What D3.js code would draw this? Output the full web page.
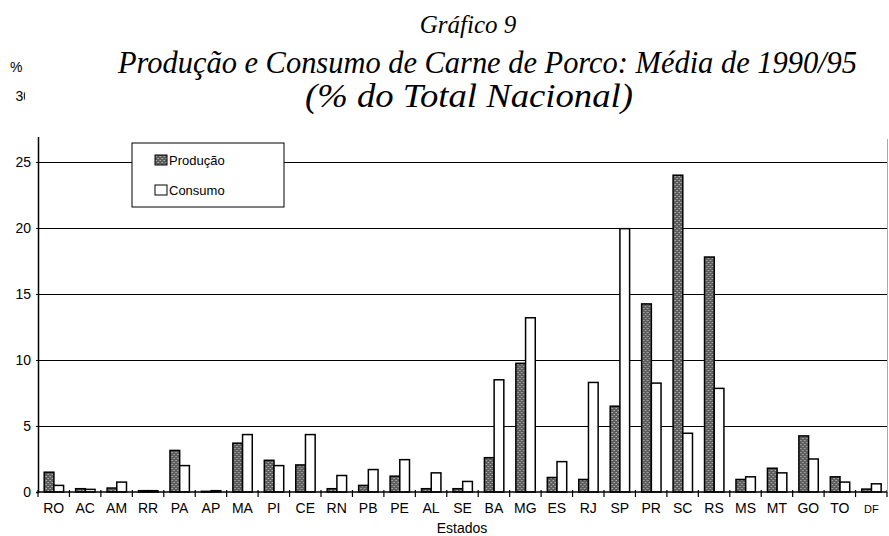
<!DOCTYPE html>
<html><head><meta charset="utf-8">
<script src="https://cdn.jsdelivr.net/npm/d3@7"></script>
<style>
body{margin:0;background:#fff}svg{display:block}
.sans{font-family:"Liberation Sans", Arial, Helvetica, sans-serif;}
.serif{font-family:"Liberation Serif", "Times New Roman", Times, serif;font-style:italic;}
</style>
</head><body>
<svg id="c" width="889" height="536"></svg>
<script>
const estados = ["RO","AC","AM","RR","PA","AP","MA","PI","CE","RN","PB","PE","AL","SE","BA","MG","ES","RJ","SP","PR","SC","RS","MS","MT","GO","TO","DF"];
const producao = [1.5,0.25,0.3,0.1,3.15,0.05,3.7,2.4,2.05,0.25,0.5,1.2,0.25,0.25,2.6,9.75,1.1,0.95,6.5,14.25,24.0,17.8,0.95,1.8,4.25,1.15,0.22];
const consumo  = [0.5,0.2,0.75,0.1,2.0,0.1,4.35,2.0,4.35,1.25,1.7,2.45,1.45,0.8,8.5,13.2,2.3,8.3,19.95,8.25,4.45,7.85,1.15,1.45,2.5,0.75,0.62];
const series = ["Produção","Consumo"];
const yTicks = [0,5,10,15,20,25,30];

const svg = d3.select("#c");
const L = 38, R = 887, T = 96, B = 492;
const x = d3.scaleBand().domain(estados).range([L, R]).padding(0);
const sub = d3.scaleBand().domain(series).range([6.2, 25.6]).padding(0);
const y = d3.scaleLinear().domain([0, 30]).range([B, T]);

const defs = svg.append("defs");
const pat = defs.append("pattern").attr("id","hatch").attr("patternUnits","userSpaceOnUse")
  .attr("width",4).attr("height",4);
pat.append("rect").attr("width",4).attr("height",4).attr("fill","#5c5c5c");
pat.append("rect").attr("x",0).attr("y",0).attr("width",1).attr("height",1).attr("fill","#b0b0b0");
pat.append("rect").attr("x",2).attr("y",2).attr("width",1).attr("height",1).attr("fill","#b0b0b0");
pat.append("rect").attr("x",1).attr("y",2).attr("width",1).attr("height",1).attr("fill","#8a8a8a");
pat.append("rect").attr("x",3).attr("y",0).attr("width",1).attr("height",1).attr("fill","#8a8a8a");

// gridlines
svg.append("g").selectAll("line").data(yTicks.filter(d=>d>0)).join("line")
  .attr("x1", L).attr("x2", R).attr("y1", d=>y(d)).attr("y2", d=>y(d))
  .attr("stroke","#000").attr("stroke-width",1).attr("shape-rendering","crispEdges");

// y axis
const ya = svg.append("g").attr("transform",`translate(${L},0)`)
  .call(d3.axisLeft(y).tickValues(yTicks).tickSize(2).tickPadding(5));
ya.attr("font-family",null).attr("font-size",null).attr("class","sans");
ya.select(".domain").attr("stroke","#000").attr("stroke-width",1.5);
ya.selectAll("text").attr("font-size",14).attr("fill","#000");

// bars
const data = estados.map((e,i)=>({e, v:[producao[i], consumo[i]]}));
const g = svg.append("g").selectAll("g").data(data).join("g")
  .attr("transform", d=>`translate(${x(d.e)},0)`);
g.selectAll("rect").data(d=>series.map((s,j)=>({s, v:d.v[j]}))).join("rect")
  .attr("x", d=>sub(d.s)).attr("width", sub.bandwidth())
  .attr("y", d=>y(d.v)).attr("height", d=>B - y(d.v))
  .attr("fill", d=>d.s==="Produção" ? "url(#hatch)" : "#fff")
  .attr("stroke","#000").attr("stroke-width",1.5);

// x axis
const xa = svg.append("g").attr("transform",`translate(0,${B})`).attr("class","sans");
xa.append("line").attr("x1",L).attr("x2",R).attr("stroke","#000").attr("stroke-width",1.5);
const bounds = estados.map(e=>x(e)).concat([R]);
xa.selectAll("line.tk").data(bounds).join("line").attr("class","tk")
  .attr("x1",d=>d).attr("x2",d=>d).attr("y1",-2).attr("y2",5).attr("stroke","#000").attr("stroke-width",1.2);
xa.selectAll("text").data(estados).join("text")
  .attr("x", d=>x(d)+x.bandwidth()/2).attr("y", 21)
  .attr("text-anchor","middle")
  .attr("font-size", d=> d==="DF" ? 11 : 14).text(d=>d);
svg.append("text").attr("class","sans").attr("x",462).attr("y",533).attr("text-anchor","middle")
  .attr("font-size",14).text("Estados");

// unit label
svg.append("text").attr("class","sans").attr("x",10).attr("y",72).attr("font-size",14).text("%");

// title box (covers the top of the plot)
svg.append("rect").attr("x",25).attr("y",0).attr("width",864).attr("height",137).attr("fill","#fff");
svg.append("text").attr("class","serif").attr("x",468).attr("y",33).attr("text-anchor","middle")
  .attr("font-size",25).text("Gráfico 9");
svg.append("text").attr("class","serif").attr("x",118).attr("y",73)
  .attr("font-size",30.5).attr("textLength",739).attr("lengthAdjust","spacingAndGlyphs")
  .text("Produção e Consumo de Carne de Porco: Média de 1990/95");
svg.append("text").attr("class","serif").attr("x",305).attr("y",107)
  .attr("font-size",33).attr("textLength",328).attr("lengthAdjust","spacingAndGlyphs")
  .text("(% do Total Nacional)");

// legend
const lg = svg.append("g").attr("class","sans");
lg.append("rect").attr("x",132).attr("y",143).attr("width",152).attr("height",64)
  .attr("fill","#fff").attr("stroke","#000").attr("stroke-width",1);
series.forEach((s,i)=>{
  lg.append("rect").attr("x",155).attr("y",155+i*30).attr("width",12).attr("height",10)
    .attr("fill", i===0 ? "url(#hatch)" : "#fff").attr("stroke","#000").attr("stroke-width",1);
  lg.append("text").attr("x",169).attr("y",165+i*30).attr("font-size",13).text(s);
});
// right edge line
svg.append("line").attr("x1",887.5).attr("x2",887.5).attr("y1",139).attr("y2",B)
  .attr("stroke","#aaa").attr("stroke-width",1);
</script>
</body></html>
